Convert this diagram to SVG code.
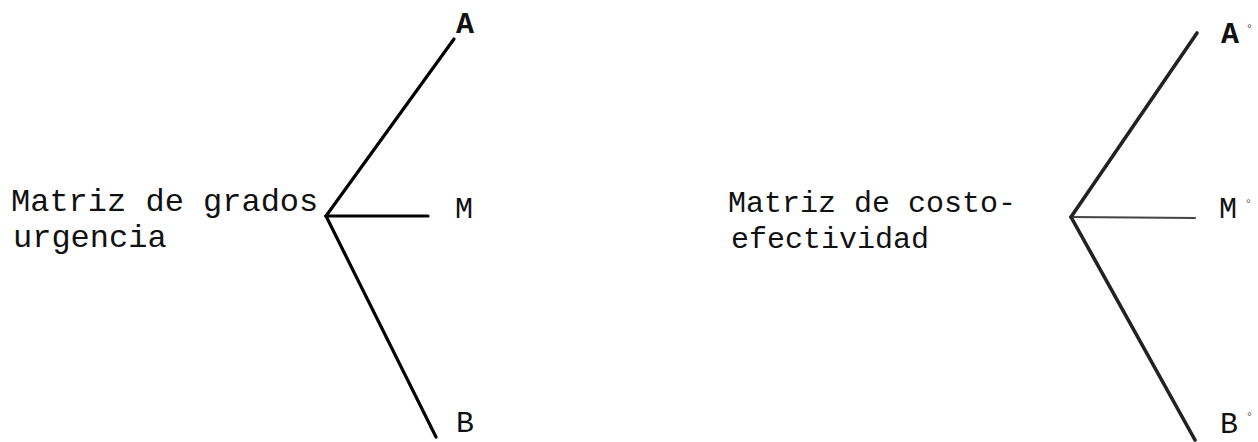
<svg xmlns="http://www.w3.org/2000/svg" width="1258" height="442" viewBox="0 0 1258 442">
<style>
.t{font-family:"Liberation Mono","DejaVu Sans Mono",monospace;fill:#111}
.lb{font-size:32px}
.rb{font-size:30px}
.leaf{font-size:30px}
.mark{font-family:"Liberation Sans",sans-serif;font-size:12px;fill:#555}
.c1{stroke:#000;stroke-width:3.2;stroke-linecap:round;fill:none}
.c2{stroke:#222;stroke-width:3.6;stroke-linecap:round;fill:none}
.c3{stroke:#444;stroke-width:2;stroke-linecap:round;fill:none}
</style>
<rect width="1258" height="442" fill="#fff"/>
<g id="connectors">
<line class="c1" x1="326" y1="216" x2="454" y2="39"/>
<line class="c1" x1="326" y1="216" x2="428" y2="216"/>
<line class="c1" x1="326" y1="216" x2="436" y2="437"/>
<line class="c2" x1="1071" y1="217" x2="1197" y2="33"/>
<line class="c3" x1="1071" y1="217" x2="1195" y2="218"/>
<line class="c2" x1="1071" y1="217" x2="1195" y2="440"/>
</g>
<g id="root-left"><text class="t lb" x="11" y="211">Matriz de grados</text><text class="t lb" x="13" y="247">urgencia</text></g>
<g id="leaf-A"><text class="t leaf" x="456" y="33" font-weight="bold" font-size="28">A</text></g>
<g id="leaf-M"><text class="t leaf" x="455" y="218">M</text></g>
<g id="leaf-B"><text class="t leaf" x="456" y="432">B</text></g>
<g id="root-right"><text class="t rb" x="728" y="212">Matriz de costo-</text><text class="t rb" x="731" y="248">efectividad</text></g>
<g id="leaf-A2"><text class="t leaf" x="1221" y="43" font-weight="bold" font-size="28">A</text><text class="mark" x="1247" y="33">°</text></g>
<g id="leaf-M2"><text class="t leaf" x="1219" y="218">M</text><text class="mark" x="1246" y="208">°</text></g>
<g id="leaf-B2"><text class="t leaf" x="1220" y="433">B</text><text class="mark" x="1247" y="421">°</text></g>
</svg>
